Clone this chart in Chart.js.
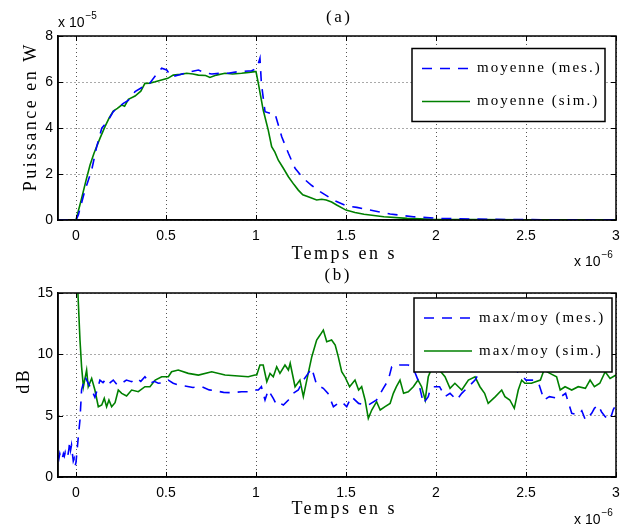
<!DOCTYPE html>
<html>
<head>
<meta charset="utf-8">
<script src="https://cdn.jsdelivr.net/npm/chart.js@4.4.1/dist/chart.umd.min.js"></script>
<style>
  html, body { margin: 0; padding: 0; background: #fff; }
  #quadro { position: relative; width: 629px; height: 527px; }
  canvas { position: absolute; left: 0; }
  #graficoA { top: 0; }
  #graficoB { top: 263px; }
</style>
</head>
<body>
<div id="quadro">
  <canvas id="graficoA" width="629" height="272"></canvas>
  <canvas id="graficoB" width="629" height="264"></canvas>
</div>
<script>
// === DADOS (tempo em 1e-6 s) ===
const ticksTempo = [0, 0.5, 1, 1.5, 2, 2.5, 3];
const ticksPuissance = [0, 2, 4, 6, 8];
const ticksDb = [0, 5, 10, 15];

const legendaA = ["moyenne (mes.)", "moyenne (sim.)"];
const legendaB = ["max/moy (mes.)", "max/moy (sim.)"];

// (a) puissance moyenne, 1e-5 W
const tempsMesA = [-0.1, 0.0, 0.013, 0.05, 0.087, 0.115, 0.143, 0.18, 0.207, 0.235, 0.263, 0.29, 0.328, 0.374, 0.41, 0.44, 0.476, 0.504, 0.531, 0.57, 0.605, 0.64, 0.68, 0.72, 0.754, 0.8, 0.845, 0.9, 0.976, 1.005, 1.022, 1.03, 1.05, 1.078, 1.105, 1.143, 1.18, 1.217, 1.263, 1.31, 1.356, 1.43, 1.5, 1.56, 1.615, 1.68, 1.745, 1.874, 2.02, 2.2, 2.4, 2.7, 3.0];
const puissanceMesA = [0, 0, 0.22, 1.3, 2.17, 3.19, 3.99, 4.35, 4.71, 4.9, 5.07, 5.2, 5.58, 5.8, 5.95, 6.26, 6.6, 6.52, 6.23, 6.3, 6.38, 6.45, 6.52, 6.4, 6.35, 6.38, 6.38, 6.45, 6.49, 6.6, 7.03, 5.94, 4.71, 4.64, 4.64, 3.62, 2.9, 2.25, 1.81, 1.5, 1.23, 0.87, 0.62, 0.55, 0.46, 0.36, 0.26, 0.14, 0.07, 0.04, 0.02, 0.01, 0.01];

const tempsSimA = [0, 0.03, 0.055, 0.078, 0.1, 0.133, 0.161, 0.185, 0.207, 0.23, 0.254, 0.27, 0.291, 0.328, 0.36, 0.383, 0.41, 0.44, 0.48, 0.51, 0.54, 0.58, 0.615, 0.65, 0.68, 0.72, 0.744, 0.78, 0.828, 0.87, 0.92, 0.96, 0.994, 1.0, 1.013, 1.04, 1.068, 1.087, 1.105, 1.124, 1.152, 1.18, 1.21, 1.235, 1.26, 1.29, 1.337, 1.365, 1.39, 1.42, 1.448, 1.5, 1.55, 1.6, 1.71, 1.84, 1.98, 2.2, 2.5, 3.0];
const puissanceSimA = [0, 0.9, 1.7, 2.39, 2.9, 3.55, 4.06, 4.45, 4.74, 4.85, 5.0, 4.95, 5.25, 5.39, 5.6, 5.94, 5.95, 6.01, 6.1, 6.16, 6.3, 6.33, 6.38, 6.35, 6.3, 6.28, 6.2, 6.3, 6.38, 6.35, 6.38, 6.42, 6.45, 6.45, 5.94, 4.78, 3.91, 3.19, 2.95, 2.6, 2.25, 1.88, 1.55, 1.3, 1.1, 1.01, 0.87, 0.9, 0.87, 0.78, 0.65, 0.43, 0.33, 0.25, 0.14, 0.07, 0.03, 0.015, 0.01, 0.005];

// (b) rapport max/moy en dB
const tempsMesB = [-0.1, -0.095, -0.09, -0.085, -0.08, -0.075, -0.07, -0.065, -0.06, -0.055, -0.05, -0.045, -0.04, -0.035, -0.03, -0.025, -0.02, -0.015, -0.01, -0.005, 0.0, 0.013, 0.022, 0.031, 0.05, 0.07, 0.09, 0.105, 0.12, 0.133, 0.15, 0.17, 0.19, 0.207, 0.23, 0.254, 0.28, 0.309, 0.337, 0.36, 0.383, 0.411, 0.435, 0.457, 0.49, 0.513, 0.54, 0.57, 0.605, 0.65, 0.698, 0.74, 0.772, 0.82, 0.865, 0.92, 0.957, 0.976, 1.013, 1.03, 1.05, 1.068, 1.096, 1.115, 1.135, 1.152, 1.18, 1.207, 1.235, 1.263, 1.29, 1.31, 1.337, 1.374, 1.4, 1.43, 1.455, 1.476, 1.504, 1.53, 1.57, 1.6, 1.624, 1.67, 1.707, 1.735, 1.754, 1.78, 1.8, 1.846, 1.874, 1.9, 1.93, 1.957, 1.967, 1.985, 2.02, 2.05, 2.078, 2.115, 2.143, 2.18, 2.217, 2.25, 2.3, 2.35, 2.4, 2.44, 2.476, 2.5, 2.54, 2.57, 2.6, 2.63, 2.68, 2.72, 2.754, 2.79, 2.81, 2.83, 2.865, 2.88, 2.9, 2.92, 2.94, 2.967, 2.985, 3.0];
const dbMes = [1.8, 1.5, 1.9, 1.6, 1.8, 1.6, 1.9, 1.7, 2.0, 1.7, 1.9, 1.8, 2.2, 2.9, 2.2, 2.6, 1.9, 1.3, 1.5, 0.9, 1.2, 3.3, 4.65, 7.1, 8.17, 7.6, 7.0, 6.5, 7.2, 7.9, 7.7, 8.04, 7.7, 7.9, 7.5, 7.64, 7.9, 7.77, 8.04, 7.8, 8.17, 7.64, 7.8, 7.64, 7.7, 7.9, 7.64, 7.5, 7.42, 7.3, 7.36, 7.1, 7.03, 6.9, 6.87, 6.95, 6.95, 7.09, 7.09, 7.36, 6.28, 7.09, 6.41, 5.87, 6.0, 5.87, 6.28, 6.82, 7.09, 7.9, 8.45, 8.86, 7.5, 7.23, 6.82, 5.73, 6.0, 6.14, 5.73, 6.55, 6.0, 5.9, 5.87, 6.28, 7.23, 7.9, 8.99, 9.2, 9.13, 9.13, 8.86, 7.9, 6.0, 6.55, 7.09, 7.36, 7.36, 6.55, 6.82, 6.28, 6.82, 7.36, 7.9, 8.8, 9.3, 9.0, 9.4, 8.72, 8.3, 7.9, 7.9, 7.64, 6.28, 6.55, 6.41, 6.82, 5.19, 5.05, 5.4, 4.65, 5.19, 5.6, 5.87, 5.3, 4.92, 4.65, 5.5, 5.87];

const tempsSimB = [0.01, 0.022, 0.031, 0.041, 0.059, 0.068, 0.087, 0.105, 0.124, 0.143, 0.157, 0.17, 0.183, 0.198, 0.217, 0.235, 0.254, 0.281, 0.309, 0.346, 0.383, 0.411, 0.44, 0.476, 0.513, 0.531, 0.568, 0.624, 0.68, 0.754, 0.828, 0.902, 0.957, 0.994, 1.004, 1.022, 1.04, 1.06, 1.078, 1.096, 1.115, 1.133, 1.161, 1.18, 1.19, 1.217, 1.244, 1.263, 1.29, 1.31, 1.337, 1.356, 1.374, 1.393, 1.42, 1.44, 1.457, 1.476, 1.494, 1.52, 1.55, 1.57, 1.587, 1.606, 1.624, 1.643, 1.67, 1.69, 1.717, 1.745, 1.763, 1.78, 1.8, 1.82, 1.846, 1.874, 1.9, 1.92, 1.94, 1.957, 1.98, 2.0, 2.02, 2.05, 2.078, 2.105, 2.143, 2.18, 2.217, 2.244, 2.27, 2.29, 2.33, 2.365, 2.383, 2.41, 2.435, 2.457, 2.476, 2.494, 2.53, 2.58, 2.6, 2.633, 2.67, 2.69, 2.717, 2.754, 2.79, 2.83, 2.856, 2.88, 2.91, 2.94, 2.967, 3.0];
const dbSim = [15.2, 11.2, 9.0, 7.36, 8.72, 7.36, 8.04, 7.09, 5.73, 5.87, 6.41, 5.73, 6.28, 5.73, 6.06, 7.09, 6.82, 6.6, 7.09, 6.95, 7.36, 7.36, 7.9, 8.17, 8.17, 8.58, 8.72, 8.45, 8.31, 8.58, 8.31, 8.23, 8.17, 8.31, 8.31, 9.13, 9.13, 7.77, 8.45, 8.17, 8.99, 8.45, 9.13, 8.72, 9.27, 7.36, 7.9, 6.55, 8.45, 9.81, 11.17, 11.57, 11.98, 11.03, 11.17, 10.76, 9.81, 8.58, 8.17, 7.36, 7.9, 7.09, 7.36, 6.28, 4.78, 5.46, 6.14, 5.46, 5.73, 6.0, 6.82, 7.36, 7.9, 6.82, 6.95, 7.36, 7.9, 7.36, 6.28, 8.17, 9.0, 8.9, 8.7, 8.17, 7.23, 7.64, 7.09, 7.9, 8.17, 7.36, 6.82, 6.0, 6.55, 7.09, 6.55, 6.28, 5.6, 7.09, 7.9, 7.64, 7.64, 7.9, 8.72, 8.45, 8.17, 7.09, 7.36, 7.09, 7.36, 7.23, 7.9, 7.36, 7.64, 8.58, 8.04, 8.31];

// === DESENHO ===
const corMes = "#0000ff";
const corSim = "#008000";
const fonteSerif = "'Liberation Serif', 'Times New Roman', serif";
const fonteTicks = "'Liberation Sans', Arial, sans-serif";

function pontos(xs, ys) {
  return xs.map((x, i) => ({ x: x, y: ys[i] }));
}

function texto(ctx, str, x, y, tam, espaco, rot) {
  ctx.save();
  ctx.translate(x, y);
  if (rot) ctx.rotate(rot);
  ctx.font = tam + "px " + fonteSerif;
  ctx.letterSpacing = espaco + "px";
  ctx.fillStyle = "#000";
  ctx.textAlign = "center";
  ctx.textBaseline = "middle";
  ctx.fillText(str, espaco / 2, 0);
  ctx.restore();
}

function expoente(ctx, x, y, exp) {
  ctx.save();
  ctx.fillStyle = "#000";
  ctx.textBaseline = "middle";
  ctx.textAlign = "left";
  ctx.font = "14px " + fonteTicks;
  ctx.fillText("x 10", x, y);
  const w = ctx.measureText("x 10").width;
  ctx.font = "10px " + fonteTicks;
  ctx.fillText(exp, x + w + 1, y - 7);
  ctx.restore();
}

const decoracao = {
  id: "decoracao",
  afterDatasetsDraw(chart, args, o) {
    const ctx = chart.ctx;
    const a = chart.chartArea;
    const sx = chart.scales.x, sy = chart.scales.y;
    ctx.save();
    // marcas internas
    ctx.strokeStyle = "#000";
    ctx.lineWidth = 1;
    ctx.beginPath();
    sx.ticks.forEach(t => {
      const px = Math.round(sx.getPixelForValue(t.value)) + 0.5;
      ctx.moveTo(px, a.bottom); ctx.lineTo(px, a.bottom - 5);
      ctx.moveTo(px, a.top); ctx.lineTo(px, a.top + 5);
    });
    sy.ticks.forEach(t => {
      const py = Math.round(sy.getPixelForValue(t.value)) + 0.5;
      ctx.moveTo(a.left, py); ctx.lineTo(a.left + 5, py);
      ctx.moveTo(a.right, py); ctx.lineTo(a.right - 5, py);
    });
    ctx.stroke();
    // caixa
    ctx.lineWidth = 1.5;
    ctx.strokeRect(a.left, a.top, a.right - a.left, a.bottom - a.top);

    // legenda
    const L = o.legenda;
    ctx.fillStyle = "#fff";
    ctx.fillRect(L.x, L.y, L.w, L.h);
    ctx.lineWidth = 1.5;
    ctx.strokeStyle = "#000";
    ctx.strokeRect(L.x, L.y, L.w, L.h);
    chart.data.datasets.forEach((ds, i) => {
      const ly = L.y + L.linhas[i];
      ctx.save();
      ctx.strokeStyle = ds.borderColor;
      ctx.lineWidth = ds.borderWidth;
      ctx.setLineDash(ds.borderDash || []);
      ctx.beginPath();
      ctx.moveTo(L.x + 10, ly);
      ctx.lineTo(L.x + 58, ly);
      ctx.stroke();
      ctx.restore();
      ctx.save();
      ctx.font = "15px " + fonteSerif;
      ctx.letterSpacing = "2px";
      ctx.fillStyle = "#000";
      ctx.textBaseline = "middle";
      ctx.fillText(ds.label, L.x + 65, ly);
      ctx.restore();
    });

    // textos
    texto(ctx, o.titulo, o.tituloX, o.tituloY, 17, 2.5);
    texto(ctx, o.eixoX, o.eixoXx, o.eixoXy, 18, 2.5);
    texto(ctx, o.eixoY, o.eixoYx, o.eixoYy, 18, 2.5, -Math.PI / 2);
    o.expoentes.forEach(e => expoente(ctx, e.x, e.y, e.txt));
    ctx.restore();
  }
};

function criarGrafico(id, cfg) {
  return new Chart(document.getElementById(id), {
    type: "line",
    data: {
      datasets: [{
        label: cfg.rotulos[0],
        data: pontos(cfg.tMes, cfg.yMes),
        borderColor: corMes,
        borderWidth: 1.6,
        borderDash: [10, 8],
        pointRadius: 0,
        tension: 0
      }, {
        label: cfg.rotulos[1],
        data: pontos(cfg.tSim, cfg.ySim),
        borderColor: corSim,
        borderWidth: 1.6,
        pointRadius: 0,
        tension: 0
      }]
    },
    options: {
      responsive: false,
      animation: false,
      events: [],
      layout: { padding: { top: cfg.margemTopo, right: 13, left: 0, bottom: 0 } },
      plugins: {
        legend: { display: false },
        tooltip: { enabled: false },
        decoracao: cfg.deco
      },
      scales: {
        x: {
          type: "linear",
          min: -0.1,
          max: 3,
          afterBuildTicks: s => { s.ticks = ticksTempo.map(v => ({ value: v })); },
          afterFit: s => { s.height = cfg.alturaX; s.paddingLeft = 0; s.paddingRight = 0; },
          ticks: {
            color: "#000",
            font: { family: fonteTicks, size: 14 },
            padding: cfg.padTickX,
            maxRotation: 0,
            autoSkip: false,
            callback: v => String(v)
          },
          grid: { color: "#555", lineWidth: 1, drawTicks: false },
          border: { display: true, color: "#000", width: 1.5, dash: [1, 3] }
        },
        y: {
          min: cfg.yMin,
          max: cfg.yMax,
          afterBuildTicks: s => { s.ticks = cfg.yTicks.map(v => ({ value: v })); },
          afterFit: s => { s.width = 58; s.paddingTop = 0; s.paddingBottom = 0; },
          ticks: {
            color: "#000",
            font: { family: fonteTicks, size: 14 },
            padding: 5,
            callback: v => String(v)
          },
          grid: { color: "#555", lineWidth: 1, drawTicks: false },
          border: { display: true, color: "#000", width: 1.5, dash: [1, 3] }
        }
      }
    },
    plugins: [decoracao]
  });
}

criarGrafico("graficoA", {
  rotulos: legendaA,
  tMes: tempsMesA, yMes: puissanceMesA,
  tSim: tempsSimA, ySim: puissanceSimA,
  yMin: 0, yMax: 8, yTicks: ticksPuissance,
  margemTopo: 36, alturaX: 52, padTickX: 8,
  deco: {
    legenda: { x: 412, y: 48.5, w: 193, h: 73, linhas: [20, 53] },
    titulo: "(a)", tituloX: 338, tituloY: 18,
    eixoX: "Temps en s", eixoXx: 343, eixoXy: 254,
    eixoY: "Puissance en W", eixoYx: 31, eixoYy: 118,
    expoentes: [{ x: 58, y: 23, txt: "−5" }, { x: 574, y: 262, txt: "−6" }]
  }
});

criarGrafico("graficoB", {
  rotulos: legendaB,
  tMes: tempsMesB, yMes: dbMes,
  tSim: tempsSimB, ySim: dbSim,
  yMin: 0, yMax: 15, yTicks: ticksDb,
  margemTopo: 30, alturaX: 50, padTickX: 8,
  deco: {
    legenda: { x: 414, y: 35, w: 198, h: 74, linhas: [20, 53] },
    titulo: "(b)", tituloX: 337, tituloY: 13,
    eixoX: "Temps en s", eixoXx: 343, eixoXy: 246,
    eixoY: "dB", eixoYx: 24, eixoYy: 119,
    expoentes: [{ x: 574, y: 257, txt: "−6" }]
  }
});
</script>
</body>
</html>
